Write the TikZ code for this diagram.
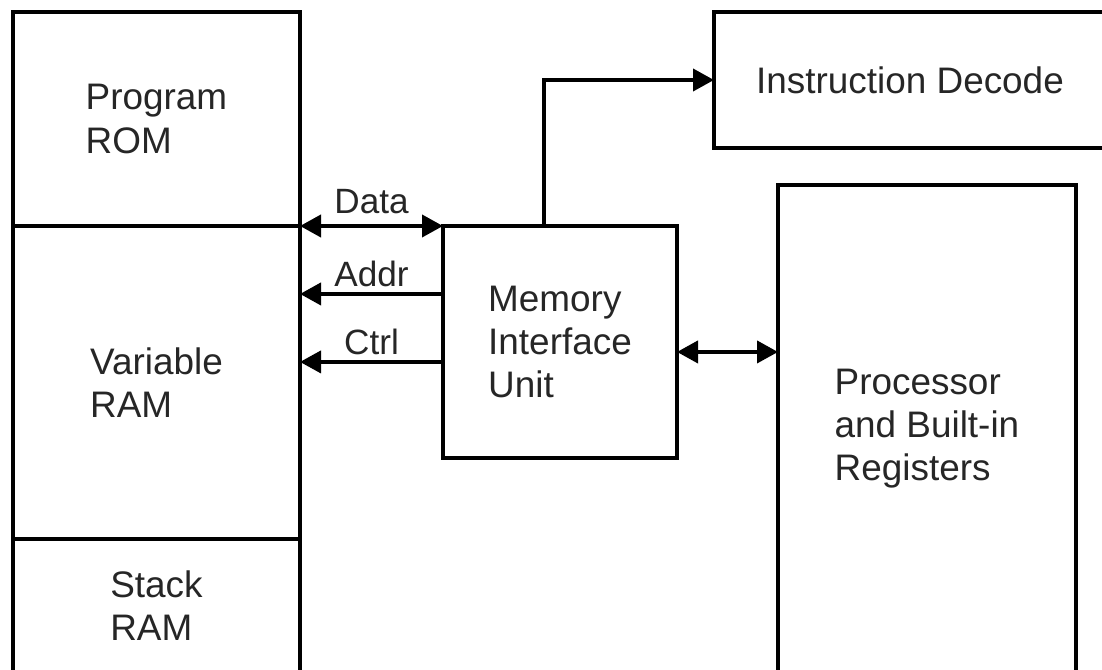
\documentclass[tikz,border=0pt]{standalone}
\usepackage{fontspec}
\setmainfont{Liberation Sans}
\usetikzlibrary{arrows.meta,calc}

\tikzset{
  blk/.style={draw,line width=2.2pt,inner sep=0pt,outer sep=0pt,align=left,text=black!85,anchor=north west},
  bus/.style={line width=2.2pt,-{Triangle[length=.42cm,width=.44cm]}},
  bibus/.style={line width=2.2pt,{Triangle[length=.42cm,width=.44cm]}-{Triangle[length=.42cm,width=.44cm]}},
  tag/.style={inner sep=0pt,text=black!85,font=\fontsize{20}{24}\selectfont}
}

\begin{document}
\begin{tikzpicture}[font=\fontsize{21}{24.5}\selectfont]
  \path[use as bounding box,clip] (0,0) rectangle (22.04,13.4);
  % memory column
  \node[blk,minimum width=5.74cm,minimum height=4.28cm] (rom) at (0.26,13.16) {Program\\ROM};
  \node[blk,minimum width=5.74cm,minimum height=6.26cm] (var) at (rom.south west) {Variable\\RAM};
  \node[blk,minimum width=5.74cm,minimum height=2.66cm] (stk) at (var.south west) {Stack\\RAM};
  % units
  \node[blk,minimum width=4.68cm,minimum height=4.64cm] (miu) at (8.86,8.88) {Memory\\Interface\\Unit};
  \node[blk,minimum width=7.84cm,minimum height=2.72cm] (dec) at (14.28,13.16) {Instruction Decode};
  \node[blk,minimum width=5.96cm,minimum height=9.74cm] (cpu) at (15.56,9.7) {Processor\\and Built-in\\Registers};
  % buses
  \coordinate (ad) at ($(miu.north west)!.293!(miu.south west)$);
  \coordinate (ct) at ($(miu.north west)!.586!(miu.south west)$);
  \coordinate (pr) at ($(miu.north east)!.543!(miu.south east)$);
  \coordinate (up) at ($(miu.north west)!.432!(miu.north east)$);
  \draw[bibus] (rom.south east) -- (miu.north west)
    node[tag,midway,above=6pt] {Data};
  \draw[bus] (ad) -- (ad -| var.east) node[tag,midway,above=3pt] {Addr};
  \draw[bus] (ct) -- (ct -| var.east) node[tag,midway,above=3pt] {Ctrl};
  \draw[bibus] (pr) -- (pr -| cpu.west);
  \draw[bus] (up) |- (dec.west);
\end{tikzpicture}
\end{document}
